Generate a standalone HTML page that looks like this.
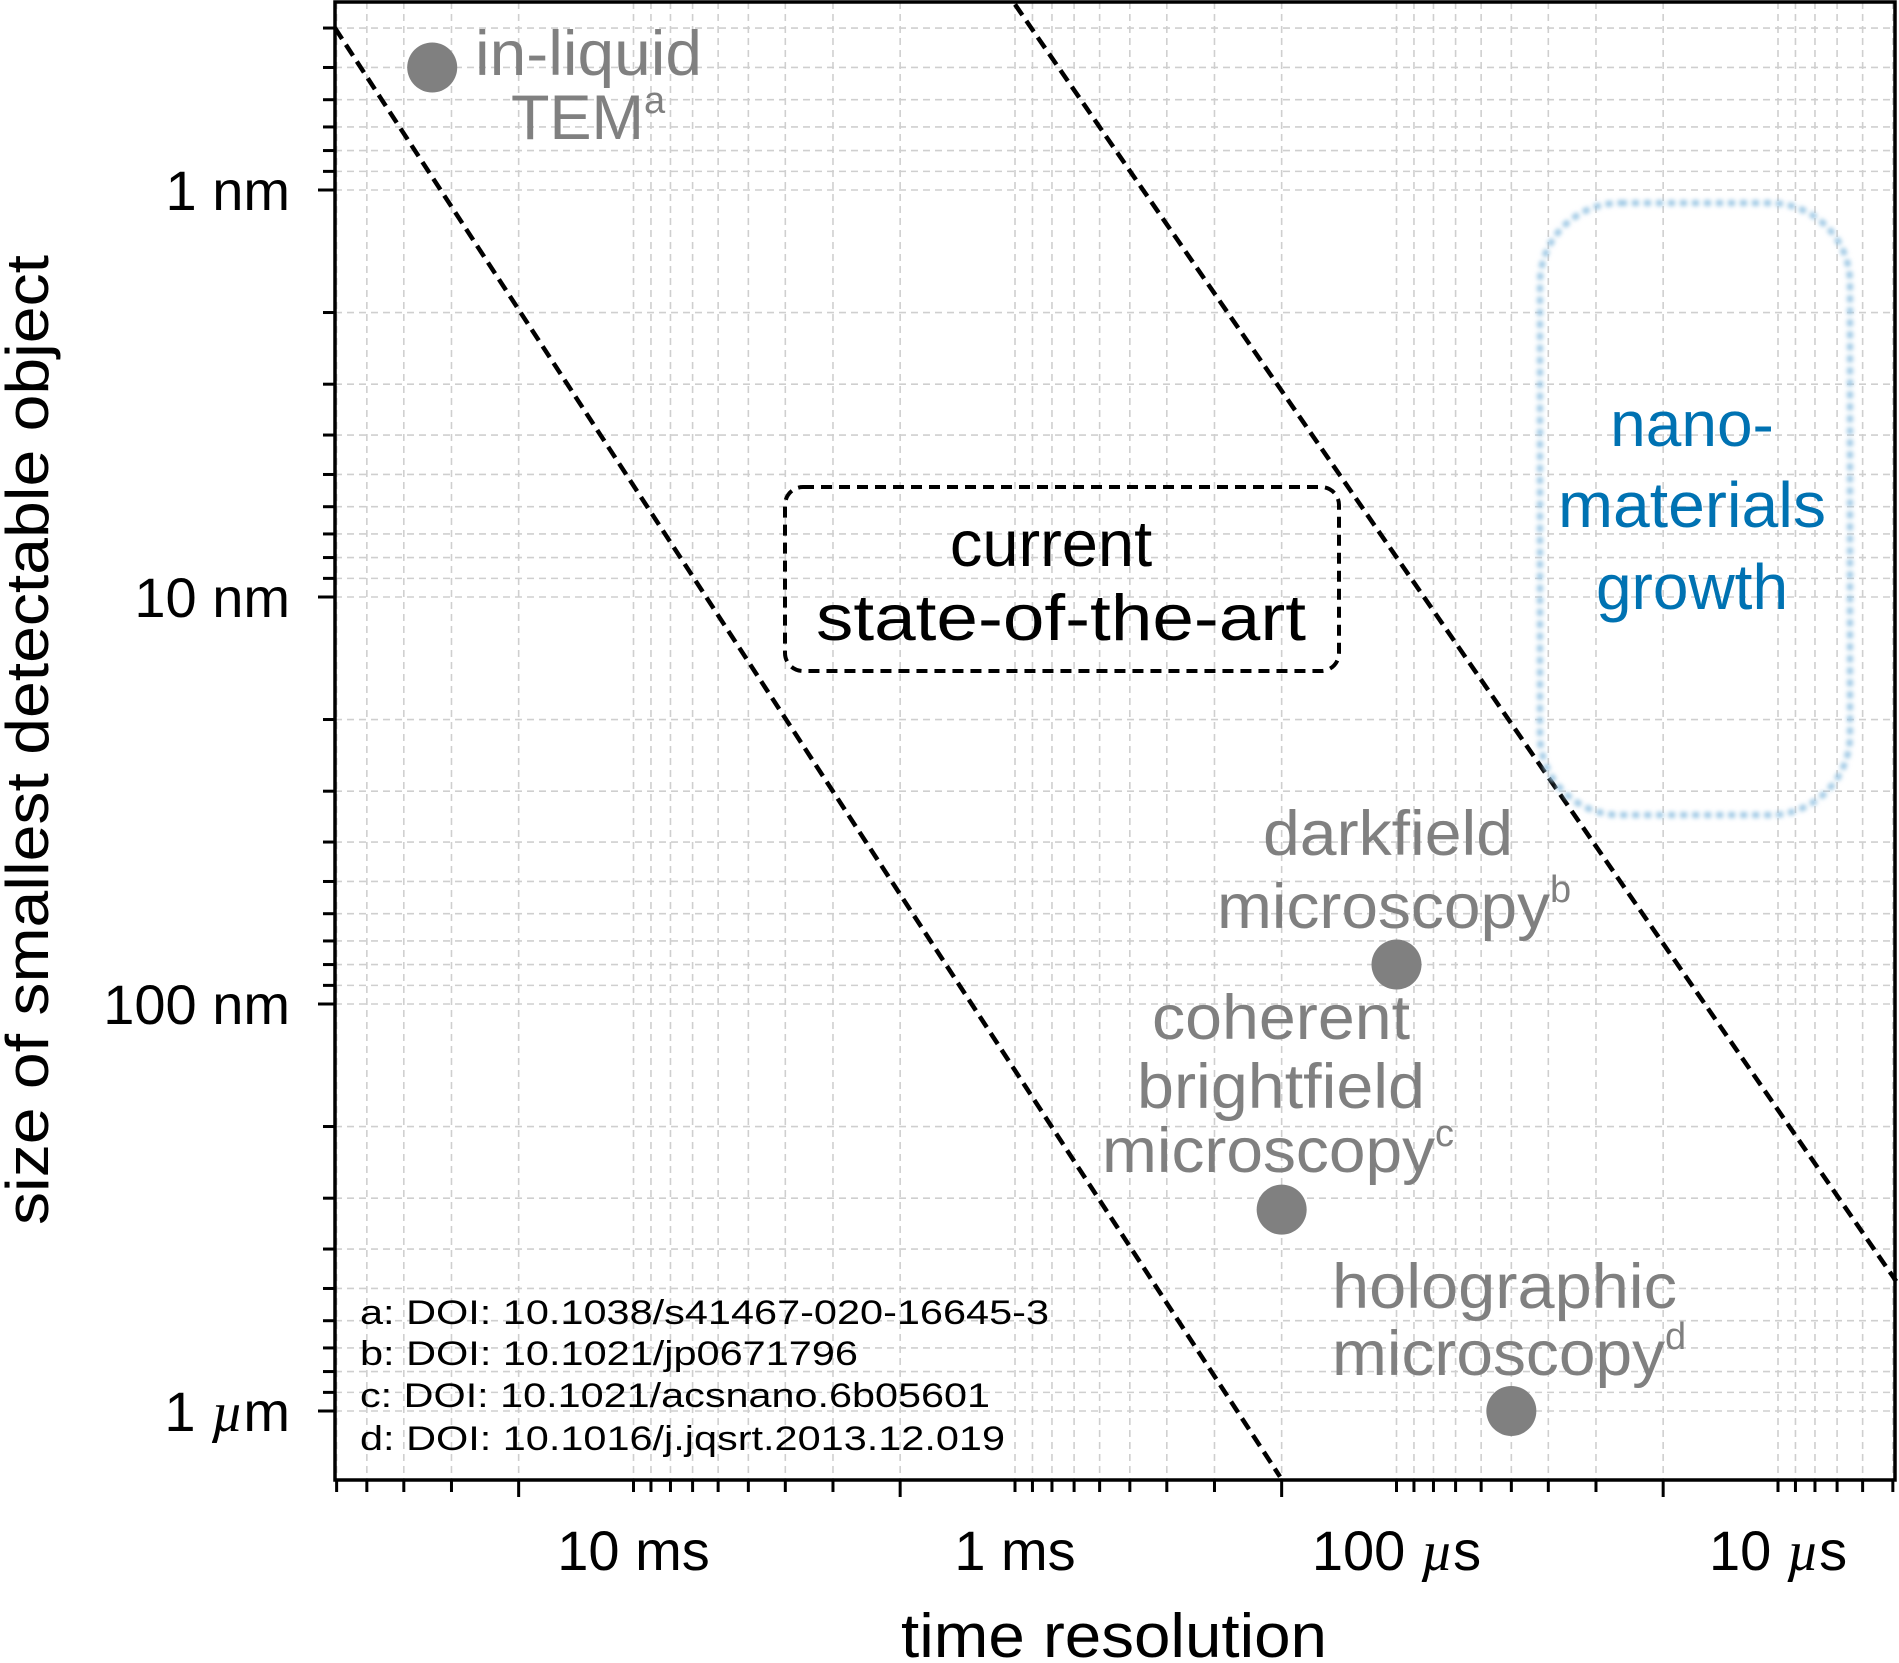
<!DOCTYPE html>
<html><head><meta charset="utf-8"><style>
html,body{margin:0;padding:0;background:#fff;}
svg{display:block;font-family:"Liberation Sans",sans-serif;}
</style></head><body>
<svg id="chart" width="1899" height="1663" viewBox="0 0 1899 1663" xmlns="http://www.w3.org/2000/svg">
<defs><filter id="blur" x="-10%" y="-10%" width="120%" height="120%"><feGaussianBlur stdDeviation="2"/></filter></defs>
<g id="grid"></g>
<g id="lines"></g>
<g id="pts"></g>
<g id="axes"></g>
<rect x="785" y="487" width="554" height="184" rx="18" fill="none" stroke="#000" stroke-width="4" stroke-dasharray="11,7"/>
<text x="1051" y="566" font-size="65" text-anchor="middle">current</text>
<text x="1061" y="640" font-size="65" text-anchor="middle" textLength="490" lengthAdjust="spacingAndGlyphs">state-of-the-art</text>
<rect x="1540" y="203" width="310" height="612" rx="80" fill="none" stroke="#9ec8e4" stroke-width="6" stroke-dasharray="7,5" filter="url(#blur)"/>
<g fill="#0072b2" font-size="64" text-anchor="middle">
<text x="1692" y="446">nano-</text><text x="1692" y="527" textLength="268" lengthAdjust="spacingAndGlyphs">materials</text><text x="1692" y="609">growth</text></g>
<g fill="#808080" font-size="63">
<text x="475" y="75" textLength="227" lengthAdjust="spacingAndGlyphs">in-liquid</text>
<text x="511" y="139">TEM<tspan font-size="38" dy="-26">a</tspan></text>
<text x="1388" y="855" text-anchor="middle" textLength="250" lengthAdjust="spacingAndGlyphs">darkfield</text>
<text x="1217" y="928"><tspan textLength="333" lengthAdjust="spacingAndGlyphs">microscopy</tspan><tspan font-size="38" dy="-26">b</tspan></text>
<text x="1281" y="1039" text-anchor="middle" textLength="258" lengthAdjust="spacingAndGlyphs">coherent</text>
<text x="1281" y="1108" text-anchor="middle" textLength="288" lengthAdjust="spacingAndGlyphs">brightfield</text>
<text x="1102" y="1172"><tspan textLength="333" lengthAdjust="spacingAndGlyphs">microscopy</tspan><tspan font-size="38" dy="-26">c</tspan></text>
<text x="1332" y="1308" textLength="345" lengthAdjust="spacingAndGlyphs">holographic</text>
<text x="1332" y="1375"><tspan textLength="333" lengthAdjust="spacingAndGlyphs">microscopy</tspan><tspan font-size="38" dy="-26">d</tspan></text>
</g>
<g font-size="34">
<text x="360" y="1324" textLength="689" lengthAdjust="spacingAndGlyphs">a: DOI: 10.1038/s41467-020-16645-3</text>
<text x="360" y="1365" textLength="498" lengthAdjust="spacingAndGlyphs">b: DOI: 10.1021/jp0671796</text>
<text x="360" y="1407" textLength="630" lengthAdjust="spacingAndGlyphs">c: DOI: 10.1021/acsnano.6b05601</text>
<text x="360" y="1450" textLength="645" lengthAdjust="spacingAndGlyphs">d: DOI: 10.1016/j.jqsrt.2013.12.019</text>
</g>
<text x="1114" y="1657" font-size="62" text-anchor="middle" textLength="426" lengthAdjust="spacingAndGlyphs">time resolution</text>
<text transform="translate(48,740) rotate(-90)" font-size="60" text-anchor="middle" textLength="970" lengthAdjust="spacingAndGlyphs">size of smallest detectable object</text>
</svg>
<script>
// data (time in seconds, size in meters)
const pointNames = ['in-liquid TEM','darkfield','coherent brightfield','holographic'];
const pointTimes = [33.7e-3, 100e-6, 200e-6, 50e-6];
const pointSizes = [0.5e-9, 80e-9, 320e-9, 1e-6];
const line1Times = [60.6e-3, 202e-6];
const line1Sizes = [0.4e-9, 1.45e-6];
const line2Times = [1e-3, 4.9e-6];
const line2Sizes = [0.35e-9, 0.48e-6];
const xTickValues = [1e-2, 1e-3, 1e-4, 1e-5];
const xTickNums = ['10','1','100','10'];
const xTickUnits = ['ms','ms','\u00b5s','\u00b5s'];
const yTickValues = [1e-9, 1e-8, 1e-7, 1e-6];
const yTickNums = ['1','10','100','1'];
const yTickUnits = ['nm','nm','nm','\u00b5m'];

const L=335,R=1895,T=2,B=1480;
function X(t){return 633.5+381.5*(-2-Math.log10(t));}
function Y(s){return 190+407*(Math.log10(s)+9);}
const NS='http://www.w3.org/2000/svg';
function mk(tag,attrs,parent){const e=document.createElementNS(NS,tag);for(const k in attrs)e.setAttribute(k,attrs[k]);parent.appendChild(e);return e;}
const grid=document.getElementById('grid'),axes=document.getElementById('axes');
for(let k=-2;k>=-7;k--){for(let m=1;m<=9;m++){const t=m*Math.pow(10,k);const x=X(t);if(x<L-0.5||x>R+0.5)continue;
 const g=mk('line',{x1:x,x2:x,y1:T,y2:B,stroke:'#cfcfcf','stroke-width':1.6,'stroke-dasharray':'7,5'},grid);
 
 
 const tk=mk('line',{x1:x,x2:x,y1:B,y2:B+(m===2?17:12),stroke:'#000','stroke-width':3},axes);
 
 
}}
for(let k=-10;k<=-5;k++){for(let m=1;m<=9;m++){const s=m*Math.pow(10,k);const y=Y(s);if(y<T-0.5||y>B+0.5)continue;
 const g=mk('line',{x1:L,x2:R,y1:y,y2:y,stroke:'#cfcfcf','stroke-width':1.6,'stroke-dasharray':'7,5'},grid);
 
 
 const tk=mk('line',{x1:L-(m===1?17:12),x2:L,y1:y,y2:y,stroke:'#000','stroke-width':3},axes);
 
 
}}
const fr=mk('rect',{x:L,y:T,width:R-L,height:B-T,fill:'none',stroke:'#000','stroke-width':3.5},axes);


function label(parent,num,unit,attrs){const e=mk('text',attrs,parent);
 const a=document.createElementNS(NS,'tspan');a.textContent=num+' ';e.appendChild(a);
 const b=document.createElementNS(NS,'tspan');
 if(unit[0]==='\u00b5'){const mu=document.createElementNS(NS,'tspan');mu.setAttribute('font-family','"Liberation Serif",serif');mu.setAttribute('font-style','italic');mu.textContent='\u00b5';e.appendChild(mu);b.textContent=unit.slice(1);}
 else b.textContent=unit;
 e.appendChild(b);return e;}
xTickValues.forEach((v,i)=>{const e=label(axes,xTickNums[i],xTickUnits[i],{x:X(v),y:1570,'font-size':56,'text-anchor':'middle'});
 
 });
yTickValues.forEach((v,i)=>{const e=label(axes,yTickNums[i],yTickUnits[i],{x:290,y:Y(v)+20,'font-size':56,'text-anchor':'end'});
 
 });
const lg=document.getElementById('lines');
[[line1Times,line1Sizes],[line2Times,line2Sizes]].forEach(([ts,ss],i)=>{
 const l=mk('line',{x1:X(ts[0]),y1:Y(ss[0]),x2:X(ts[1]),y2:Y(ss[1]),stroke:'#000','stroke-width':4.5,'stroke-dasharray':'13,7'},lg);
 
 
});
const pg=document.getElementById('pts');
pointTimes.forEach((t,i)=>{const c=mk('circle',{cx:X(t),cy:Y(pointSizes[i]),r:25,fill:'#808080'},pg);
 
 });
</script>
</body></html>
